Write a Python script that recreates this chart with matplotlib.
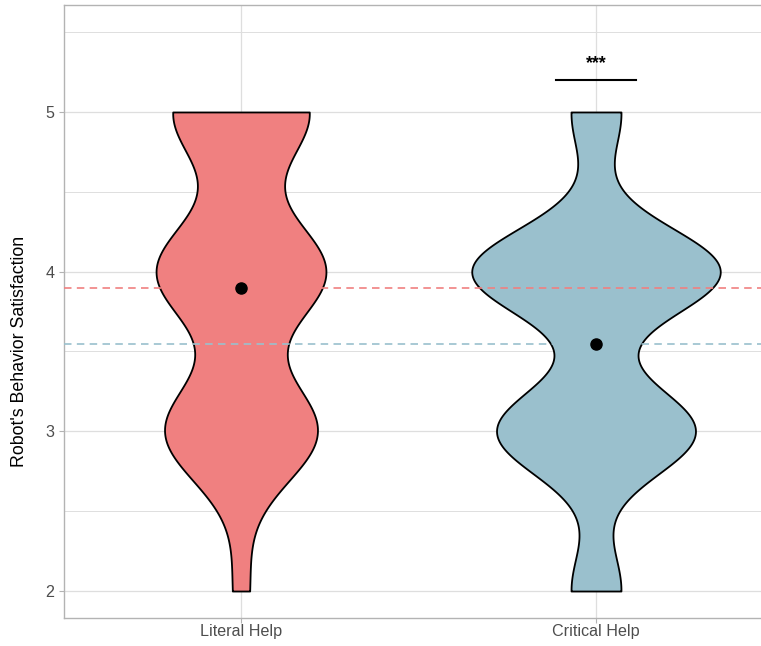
import numpy as np
import matplotlib
matplotlib.use('Agg')
from matplotlib import pyplot as plt
from matplotlib.ticker import MultipleLocator

plt.rcParams['font.family'] = ['Liberation Sans', 'DejaVu Sans']

# ratings given per condition (counts per scale point)
scores = [2, 3, 4, 5]
conditions = ['Literal Help', 'Critical Help']
literal_counts = [3, 28, 31, 25]
critical_counts = [8, 32, 40, 8]
fills = ['#F08080', '#9AC0CD']

# significance bracket above Critical Help
sig_label = '***'
sig_y = 5.2
sig_xmin, sig_xmax = 1.887, 2.113


def bw_nrd0(x):
    # same rule as R's density() default
    hi = np.std(x, ddof=1)
    q75, q25 = np.percentile(x, [75, 25])
    lo = min(hi, (q75 - q25) / 1.34)
    return 0.9 * lo * len(x) ** -0.2


def trimmed_density(x, n=512):
    h = bw_nrd0(x)
    grid = np.linspace(x.min(), x.max(), n)
    z = (grid[:, None] - x[None, :]) / h
    dens = np.exp(-0.5 * z ** 2).sum(axis=1) / (len(x) * h * np.sqrt(2 * np.pi))
    return grid, dens


groups = [np.repeat(scores, literal_counts).astype(float),
          np.repeat(scores, critical_counts).astype(float)]
dens = [trimmed_density(g) for g in groups]
dmax = max(d.max() for _, d in dens)  # scale = "area"
vwidth = 0.7

fig = plt.figure(figsize=(7.61, 6.46), dpi=100)
# panel runs past the right edge of the picture (cropped)
ax = fig.add_axes([63.5 / 761, 28 / 646, 710 / 761, 613 / 646])

for i, (g, (grid, d)) in enumerate(zip(groups, dens)):
    pos = i + 1
    half = d / dmax * vwidth / 2
    ax.fill_betweenx(grid, pos - half, pos + half, facecolor=fills[i],
                     edgecolor='black', linewidth=1.3, zorder=2)

means = [g.mean() for g in groups]
for i, m in enumerate(means):
    ax.axhline(m, color=fills[i], linewidth=1.2, dashes=(4.5, 3.2), zorder=3)
ax.plot([1, 2], means, 'o', color='black', markersize=8, zorder=4)

ax.plot([sig_xmin, sig_xmax], [sig_y, sig_y], color='black', linewidth=1.5, zorder=4)
ax.text((sig_xmin + sig_xmax) / 2, sig_y + 0.072, sig_label, ha='center', va='baseline',
        fontsize=12.7, fontweight='bold', color='black', zorder=4)

ax.set_xlim(0.5, 2.5)
ax.set_ylim(1.831, 5.670)
ax.set_xticks([1, 2])
ax.set_xticklabels(conditions)
ax.set_yticks(scores)
ax.yaxis.set_minor_locator(MultipleLocator(0.5))

ax.set_axisbelow(True)
ax.grid(which='major', color='#DEDEDE', linewidth=0.9)
ax.grid(which='minor', axis='y', color='#DEDEDE', linewidth=0.7)
ax.tick_params(which='major', length=3.6, width=0.8, color='#B3B3B3',
               labelcolor='#4D4D4D', labelsize=11.6)
ax.tick_params(axis='x', pad=1)
ax.tick_params(axis='y', pad=2.9)
ax.tick_params(which='minor', length=0)
for s in ax.spines.values():
    s.set_color('#B3B3B3')
    s.set_linewidth(1.0)

ax.set_ylabel("Robot's Behavior Satisfaction", fontsize=12.8, color='black')
ax.yaxis.label.set_va('center')
ax.yaxis.set_label_coords((20 - 63.5) / 710, (618 - 351) / 613)

fig.savefig('out.png', dpi=100)
